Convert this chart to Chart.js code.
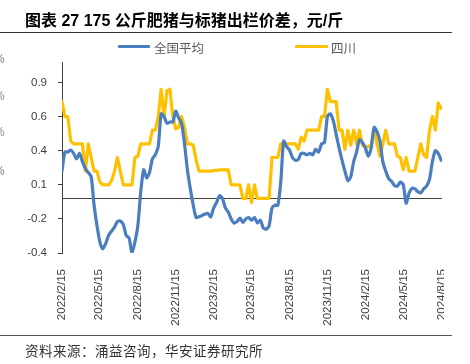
<!DOCTYPE html>
<html><head><meta charset="utf-8">
<script src="https://cdn.jsdelivr.net/npm/chart.js@4"></script>
<style>
html,body{margin:0;padding:0;background:#fff;}
#wrap{position:relative;width:470px;height:364px;overflow:hidden;background:#fff;}
#c{position:absolute;left:0;top:0;}
.t{position:absolute;white-space:nowrap;font-family:"Liberation Sans","Noto Sans CJK SC",sans-serif;}
</style></head><body>
<div id="wrap">
<canvas id="c" width="470" height="364"></canvas>
<div class="t" style="left:25px;top:7px;font-size:16px;font-weight:bold;color:#000;">图表 27 175 公斤肥猪与标猪出栏价差，元/斤</div>
<div style="position:absolute;left:0;top:32px;width:452px;height:1px;background:#333;"></div>
<div style="position:absolute;left:118px;top:45px;width:32px;height:3px;background:#4A7EBF;border-radius:1px;"></div>
<div class="t" style="left:154px;top:38px;font-size:12.5px;color:#595959;font-family:'Noto Sans CJK SC';">全国平均</div>
<div style="position:absolute;left:295px;top:45px;width:33px;height:3px;background:#FFC000;border-radius:1px;"></div>
<div class="t" style="left:331px;top:38px;font-size:12.5px;color:#595959;font-family:'Noto Sans CJK SC';">四川</div>
<div class="t" style="left:-6px;top:52px;font-size:12px;color:#888;">%</div>
<div class="t" style="left:-6px;top:89px;font-size:12px;color:#888;">%</div>
<div class="t" style="left:-6px;top:125px;font-size:12px;color:#888;">%</div>
<div class="t" style="left:-6px;top:164px;font-size:12px;color:#888;">%</div>
<div style="position:absolute;left:444px;top:256px;width:30px;height:75px;background:#fff;"></div>
<div style="position:absolute;left:0;top:335px;width:452px;height:1px;background:#555;"></div>
<div class="t" style="left:25px;top:340px;font-size:13.5px;color:#333;font-family:'Noto Sans CJK SC';letter-spacing:0.5px;">资料来源：涌益咨询，华安证券研究所</div>
</div>
<script>
const startDate = "2022/2/15";
const xTickLabels = ["2022/2/15","2022/5/15","2022/8/15","2022/11/15","2023/2/15","2023/5/15","2023/8/15","2023/11/15","2024/2/15","2024/5/15","2024/8/15"];
const yTickValues = [-0.4,-0.15,0.1,0.35,0.6,0.85];
const yTickLabels = ["-0.4","-0.2","0.1","0.4","0.6","0.9"];
const nationalAvg = [0.20,0.34,0.34,0.355,0.33,0.29,0.33,0.27,0.22,0.19,
0.16,-0.05,-0.2,-0.32,-0.37,-0.33,-0.27,-0.24,-0.21,-0.17,
-0.165,-0.19,-0.27,-0.29,-0.4,-0.32,-0.2,0.05,0.21,0.15,
0.19,0.29,0.32,0.38,0.62,0.60,0.55,0.56,0.56,0.64,
0.59,0.55,0.40,0.21,0.07,-0.05,-0.14,-0.135,-0.125,-0.115,
-0.11,-0.135,-0.07,-0.03,0.02,0.0,-0.07,-0.1,-0.15,-0.18,
-0.17,-0.145,-0.175,-0.15,-0.14,-0.16,-0.14,-0.18,-0.16,-0.215,
-0.225,-0.2,-0.07,-0.05,-0.05,0.12,0.42,0.38,0.355,0.3,
0.28,0.285,0.33,0.33,0.32,0.33,0.32,0.36,0.34,0.40,
0.41,0.60,0.62,0.57,0.47,0.37,0.28,0.2,0.13,0.16,
0.27,0.34,0.43,0.41,0.37,0.31,0.37,0.52,0.49,0.42,
0.27,0.2,0.145,0.125,0.095,0.09,0.12,0.1,-0.035,0.04,
0.075,0.07,0.05,0.04,0.07,0.09,0.14,0.27,0.35,0.33,0.28];
const sichuan = [0.71,0.6,0.6,0.42,0.4,0.4,0.4,0.4,0.2,0.4,
0.3,0.2,0.2,0.12,0.1,0.1,0.1,0.13,0.2,0.3,
0.2,0.1,0.1,0.1,0.1,0.3,0.31,0.4,0.4,0.4,
0.4,0.5,0.5,0.6,0.8,0.6,0.79,0.8,0.6,0.51,
0.52,0.6,0.52,0.4,0.4,0.39,0.28,0.2,0.2,0.2,
0.2,0.2,0.205,0.205,0.21,0.21,0.21,0.21,0.1,0.1,
0.1,0.1,0.0,0.0,0.1,-0.03,0.1,0.0,0.0,0.0,
0.0,0.0,0.3,0.3,0.3,0.4,0.4,0.4,0.4,0.4,
0.4,0.36,0.45,0.42,0.5,0.5,0.5,0.5,0.5,0.6,
0.6,0.8,0.71,0.71,0.71,0.5,0.5,0.36,0.5,0.39,
0.5,0.4,0.5,0.39,0.38,0.38,0.39,0.51,0.4,0.31,
0.4,0.5,0.4,0.4,0.4,0.31,0.3,0.21,0.3,0.2,
0.2,0.2,0.3,0.4,0.32,0.3,0.5,0.6,0.5,0.7,0.66];

function dayOf(s){const [y,m,d]=s.split('/').map(Number);return Math.round((Date.UTC(y,m-1,d)-Date.UTC(2022,1,15))/86400000);}
const xTickDays = xTickLabels.map(dayOf);
const toPts = arr => arr.map((v,i)=>({x:i*7,y:v}));

const zeroLine = {id:'zeroLine',beforeDatasetsDraw(chart){
  const {ctx,chartArea,scales}=chart;const y=Math.round(scales.y.getPixelForValue(0))+0.5;
  ctx.save();ctx.strokeStyle='#404040';ctx.lineWidth=1.2;ctx.beginPath();
  ctx.moveTo(chartArea.left,y);ctx.lineTo(chartArea.right,y);ctx.stroke();ctx.restore();}};

new Chart(document.getElementById('c'),{
  type:'line',
  data:{datasets:[
    {label:'全国平均',data:toPts(nationalAvg),borderColor:'#4A7EBF',borderWidth:3.2,pointRadius:0,tension:0.25,borderJoinStyle:'round',borderCapStyle:'round'},
    {label:'四川',data:toPts(sichuan),borderColor:'#FFC000',borderWidth:3.2,pointRadius:0,tension:0,borderJoinStyle:'round',borderCapStyle:'round'}
  ]},
  options:{
    responsive:false,animation:false,
    layout:{padding:{left:0,top:62,right:28,bottom:0}},
    plugins:{legend:{display:false},tooltip:{enabled:false}},
    scales:{
      x:{type:'linear',min:0,max:dayOf(xTickLabels[xTickLabels.length-1]),
        afterBuildTicks(s){s.ticks=xTickDays.map(v=>({value:v}));},
        afterFit(s){s.height=111;},
        grid:{display:false},border:{display:false},
        ticks:{autoSkip:false,minRotation:90,maxRotation:90,padding:8,color:'#404040',
          font:{family:'Liberation Sans',size:11.5},
          callback(v){const i=xTickDays.indexOf(v);return i>=0?xTickLabels[i]:'';}}},
      y:{min:-0.4,max:1.0,
        afterBuildTicks(s){s.ticks=yTickValues.map(v=>({value:v}));},
        afterFit(s){s.width=62;},
        grid:{drawOnChartArea:false,drawTicks:true,tickLength:4,color:'#404040'},
        border:{display:true,color:'#404040',width:1},
        ticks:{padding:11,color:'#404040',font:{family:'Liberation Sans',size:11.5},
          callback(v,i){return yTickLabels[i];}}}
    }
  },
  plugins:[zeroLine]
});
</script>
</body></html>
